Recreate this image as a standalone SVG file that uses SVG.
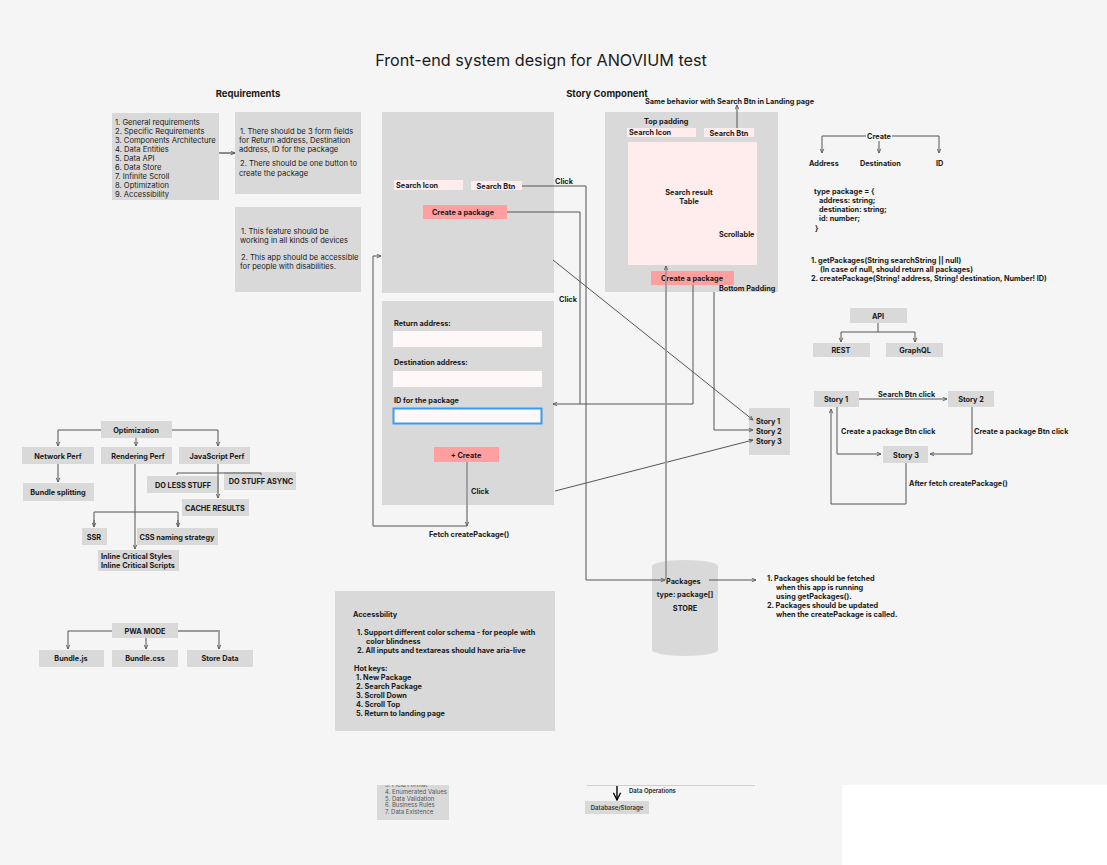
<svg xmlns="http://www.w3.org/2000/svg" width="1107" height="865" viewBox="0 0 1107 865">
<defs>
<marker id="ah" viewBox="0 0 6 6" refX="5.5" refY="3" markerWidth="5" markerHeight="5" orient="auto" markerUnits="userSpaceOnUse">
<path d="M0.5,0.8 L5.5,3 L0.5,5.2" fill="none" stroke="#555" stroke-width="1"/>
</marker>
<marker id="ahb" viewBox="0 0 10 10" refX="9" refY="5" markerWidth="9" markerHeight="9" orient="auto" markerUnits="userSpaceOnUse">
<path d="M1,1 L9,5 L1,9" fill="none" stroke="#000" stroke-width="1.4"/>
</marker>
<clipPath id="clipb"><rect x="377" y="785" width="72" height="35"/></clipPath>
</defs>
<style>
text{font-family:Inter,"Noto Sans","Liberation Sans",sans-serif;fill:#1a1a1a}
.t{font-size:16.2px;font-weight:400}
.h{font-size:9.5px;font-weight:700}
.r{font-size:7.6px;font-weight:400}
.b{font-size:7.3px;font-weight:700}
.c{text-anchor:middle}
.box{fill:#d9d9d9}
.pk{fill:#ffecec}
.sal{fill:#ff9f9f}
.inp{fill:#fff8f8}
.ln{fill:none;stroke:#555;stroke-width:1}
.lg{fill:none;stroke:#9a9a9a;stroke-width:1.8}
.sm{font-size:6px;font-weight:400;fill:#555}
</style>
<rect width="1107" height="865" fill="#f5f5f5"/>
<rect x="842" y="785" width="265" height="80" fill="#ffffff"/>

<text class="t c" x="541" y="66">Front-end system design for ANOVIUM test</text>
<text class="h c" x="248" y="97">Requirements</text>
<text class="h c" x="607" y="97">Story Component</text>

<g id="req-list">
<rect class="box" x="112" y="113" width="107" height="87"/>
<text class="r" x="115" y="125">1. General requirements</text>
<text class="r" x="115" y="134">2. Specific Requirements</text>
<text class="r" x="115" y="143">3. Components Architecture</text>
<text class="r" x="115" y="152">4. Data Entities</text>
<text class="r" x="115" y="161">5. Data API</text>
<text class="r" x="115" y="170">6. Data Store</text>
<text class="r" x="115" y="179">7. Infinite Scroll</text>
<text class="r" x="115" y="188">8. Optimization</text>
<text class="r" x="115" y="197">9. Accessibility</text>
</g>
<g id="req-specific">
<rect class="box" x="235" y="112" width="126" height="82"/>
<text class="r" x="240" y="134">1. There should be 3 form fields</text>
<text class="r" x="239" y="143">for Return address, Destination</text>
<text class="r" x="239" y="152">address, ID for the package</text>
<text class="r" x="240" y="166">2. There should be one button to</text>
<text class="r" x="239" y="176">create the package</text>
</g>
<g id="req-general">
<rect class="box" x="235" y="207" width="126" height="85"/>
<text class="r" x="241" y="234">1. This feature should be</text>
<text class="r" x="240" y="243">working in all kinds of devices</text>
<text class="r" x="241" y="260">2. This app should be accessible</text>
<text class="r" x="240" y="269">for people with disabilities.</text>
</g>

<g id="landing">
<rect class="box" x="382" y="112" width="172" height="181"/>
<rect class="pk" x="394" y="180" width="69" height="10"/>
<text class="b" x="396" y="188">Search Icon</text>
<rect class="pk" x="471" y="181" width="51" height="9"/>
<text class="b c" x="496" y="188.5">Search Btn</text>
<rect class="sal" x="423" y="205" width="84" height="14"/>
<text class="b c" x="463" y="215">Create a package</text>
</g>

<g id="form">
<rect class="box" x="382" y="301" width="172" height="204"/>
<text class="b" x="394" y="326">Return address:</text>
<rect class="inp" x="393" y="331" width="149" height="16"/>
<text class="b" x="394" y="365">Destination address:</text>
<rect class="inp" x="393" y="371" width="149" height="16"/>
<text class="b" x="394" y="403">ID for the package</text>
<rect class="inp" x="393.5" y="408.5" width="148" height="15" stroke="#3b9cf0" stroke-width="2"/>
<rect class="sal" x="434" y="447" width="65" height="15"/>
<text class="b c" x="466" y="457.5">+ Create</text>
</g>

<g id="story-component">
<rect class="box" x="605" y="112" width="173" height="180"/>
<text class="b" x="644" y="124">Top  padding</text>
<rect class="pk" x="627" y="128" width="69" height="9"/>
<text class="b" x="629" y="135">Search Icon</text>
<rect class="pk" x="704" y="128" width="50" height="9"/>
<text class="b c" x="729" y="135.5">Search Btn</text>
<rect class="pk" x="628" y="142" width="129" height="123"/>
<text class="b c" x="689" y="195">Search result</text>
<text class="b c" x="689" y="204">Table</text>
<text class="b" x="719" y="237">Scrollable</text>
<rect class="sal" x="651" y="271" width="83" height="14"/>
<text class="b c" x="692" y="281">Create a package</text>
<text class="b" x="719" y="291">Bottom Padding</text>
<text class="b" x="645" y="104">Same behavior with Search Btn in Landing page</text>
</g>

<g id="create-tree">
<text class="b c" x="879" y="139">Create</text>
<text class="b" x="809" y="166">Address</text>
<text class="b" x="860" y="166">Destination</text>
<text class="b" x="936" y="166">ID</text>
</g>
<g id="type-def">
<text class="b" x="814" y="194">type package = {</text>
<text class="b" x="819" y="203">address: string;</text>
<text class="b" x="819" y="212">destination: string;</text>
<text class="b" x="819" y="221">id: number;</text>
<text class="b" x="815" y="231">}</text>
</g>
<g id="api-list">
<text class="b" x="811" y="263">1. getPackages(String searchString || null)</text>
<text class="b" x="820" y="272">(In case of null, should return all packages)</text>
<text class="b" x="811" y="281">2. createPackage(String! address, String! destination, Number! ID)</text>
</g>
<g id="api">
<rect class="box" x="850" y="308" width="57" height="15"/>
<text class="b c" x="878" y="318.5">API</text>
</g>
<g id="rest">
<rect class="box" x="813" y="343" width="57" height="14"/>
<text class="b c" x="841" y="353">REST</text>
</g>
<g id="graphql">
<rect class="box" x="886" y="343" width="57" height="14"/>
<text class="b c" x="915" y="353">GraphQL</text>
</g>

<g id="story1">
<rect class="box" x="814" y="391" width="45" height="16"/>
<text class="b c" x="836" y="402">Story 1</text>
</g>
<g id="story2">
<rect class="box" x="948" y="391" width="46" height="16"/>
<text class="b c" x="971" y="402">Story 2</text>
</g>
<g id="story3">
<rect class="box" x="883" y="446" width="45" height="17"/>
<text class="b c" x="906" y="457.5">Story 3</text>
</g>
<g id="stories-list">
<rect class="box" x="749" y="408" width="41" height="47"/>
<text class="b" x="756" y="424">Story 1</text>
<text class="b" x="756" y="434">Story 2</text>
<text class="b" x="756" y="444">Story 3</text>
</g>

<g id="optimization">
<rect class="box" x="101" y="421" width="71" height="17"/>
<text class="b c" x="136" y="432.5">Optimization</text>
</g>
<g id="network-perf">
<rect class="box" x="22" y="447" width="72" height="17"/>
<text class="b c" x="58" y="458.5">Network Perf</text>
</g>
<g id="rendering-perf">
<rect class="box" x="101" y="447" width="71" height="17"/>
<text class="b c" x="138" y="458.5">Rendering Perf</text>
</g>
<g id="javascript-perf">
<rect class="box" x="179" y="447" width="71" height="17"/>
<text class="b c" x="217" y="458.5">JavaScript Perf</text>
</g>
<g id="bundle-splitting">
<rect class="box" x="23" y="483" width="71" height="18"/>
<text class="b c" x="58" y="494.5">Bundle splitting</text>
</g>
<g id="do-less">
<rect class="box" x="147" y="476" width="72" height="17"/>
<text class="b c" x="183" y="487.5">DO LESS STUFF</text>
</g>
<g id="do-async">
<rect class="box" x="224" y="472" width="72" height="18"/>
<text class="b c" x="261" y="484">DO STUFF ASYNC</text>
</g>
<g id="cache">
<rect class="box" x="182" y="499" width="67" height="17"/>
<text class="b c" x="215" y="510.5">CACHE RESULTS</text>
</g>
<g id="ssr">
<rect class="box" x="82" y="528" width="25" height="17"/>
<text class="b c" x="94" y="539.5">SSR</text>
</g>
<g id="css-naming">
<rect class="box" x="137" y="528" width="81" height="17"/>
<text class="b c" x="177" y="539.5">CSS naming strategy</text>
</g>
<g id="inline-critical">
<rect class="box" x="98" y="550" width="81" height="21"/>
<text class="b" x="101" y="559">Inline Critical Styles</text>
<text class="b" x="101" y="568">Inline Critical Scripts</text>
</g>

<g id="pwa">
<rect class="box" x="112" y="623" width="66" height="15"/>
<text class="b c" x="145" y="633.5">PWA MODE</text>
</g>
<g id="bundle-js">
<rect class="box" x="39" y="650" width="65" height="17"/>
<text class="b c" x="71" y="661">Bundle.js</text>
</g>
<g id="bundle-css">
<rect class="box" x="112" y="650" width="66" height="17"/>
<text class="b c" x="145" y="661">Bundle.css</text>
</g>
<g id="store-data">
<rect class="box" x="187" y="650" width="66" height="17"/>
<text class="b c" x="220" y="661">Store Data</text>
</g>

<g id="accessibility">
<rect class="box" x="335" y="591" width="220" height="140"/>
<text class="b" x="353" y="617">Accessbility</text>
<text class="b" x="357" y="635">1. Support different color schema - for people with</text>
<text class="b" x="366" y="644">color blindness</text>
<text class="b" x="357" y="653">2. All inputs and textareas should have aria-live</text>
<text class="b" x="354" y="671">Hot keys:</text>
<text class="b" x="356" y="680">1. New Package</text>
<text class="b" x="356" y="689">2. Search Package</text>
<text class="b" x="356" y="698">3. Scroll Down</text>
<text class="b" x="356" y="707">4. Scroll Top</text>
<text class="b" x="356" y="716">5. Return to landing page</text>
</g>

<g id="store">
<path d="M652,566 A33,6 0 0 1 718,566 L718,650 A33,6 0 0 1 652,650 Z" fill="#d9d9d9"/>
<text class="b" x="666" y="583.5">Packages</text>
<text class="b c" x="685" y="597">type: package[]</text>
<text class="b c" x="685" y="610.5">STORE</text>
</g>
<g id="store-notes">
<text class="b" x="767" y="580.5">1. Packages should be fetched</text>
<text class="b" x="776" y="589.5">when this app is running</text>
<text class="b" x="776" y="598.5">using getPackages().</text>
<text class="b" x="767" y="607.5">2. Packages should be updated</text>
<text class="b" x="776" y="616.5">when the createPackage is called.</text>
</g>

<g id="validation-fragment">
<rect class="box" x="377" y="785" width="72" height="35"/>
<g clip-path="url(#clipb)">
<text class="sm" x="385" y="787">3. Field Format</text>
</g>
<text class="sm" x="385" y="794">4. Enumerated Values</text>
<text class="sm" x="385" y="800.5">5. Data Validation</text>
<text class="sm" x="385" y="807">6. Business Rules</text>
<text class="sm" x="385" y="813.5">7. Data Existence</text>
</g>
<g id="database">
<rect class="box" x="585" y="801" width="64" height="13"/>
<text class="c" x="617" y="810" style="font-size:6px;font-weight:600;fill:#333">Database/Storage</text>
<text x="629" y="793" style="font-size:6px;font-weight:600;fill:#222">Data Operations</text>
</g>

<g id="connectors">
<line class="ln" x1="219" y1="153" x2="235" y2="153" style="stroke:#222" marker-end="url(#ah)"/>
<polyline class="ln" points="522,186 586,186 586,580 665,580" marker-end="url(#ah)"/>
<text class="b" x="555" y="184">Click</text>
<polyline class="ln" points="507,212 580,212 580,404"/>
<polyline class="ln" points="693,285 693,404 553,404" marker-end="url(#ah)"/>
<text class="b" x="559" y="302">Click</text>
<line class="ln" x1="553" y1="260" x2="753" y2="420" marker-end="url(#ah)"/>
<polyline class="ln" points="714,292 714,430 753,430" marker-end="url(#ah)"/>
<line class="ln" x1="555" y1="491" x2="753" y2="440" marker-end="url(#ah)"/>
<line class="lg" x1="666" y1="580" x2="666" y2="266" marker-end="url(#ah)"/>
<line class="ln" x1="709" y1="580" x2="756" y2="580" marker-end="url(#ah)"/>
<line class="lg" x1="467" y1="462" x2="467" y2="526" marker-end="url(#ah)"/>
<polyline class="ln" points="467,526 373,526 373,256 381,256" marker-end="url(#ah)"/>
<text class="b" x="471" y="494">Click</text>
<text class="b" x="429" y="537">Fetch createPackage()</text>
<line class="ln" x1="737" y1="128" x2="737" y2="105" marker-end="url(#ah)"/>
<polyline class="ln" points="866,136 822,136 822,153" marker-end="url(#ah)"/>
<polyline class="ln" points="892,136 939,136 939,153" marker-end="url(#ah)"/>
<line class="lg" x1="879" y1="141" x2="879" y2="153" marker-end="url(#ah)"/>
<polyline class="ln" points="878,323 878,332 841,332 841,342" marker-end="url(#ah)"/>
<polyline class="ln" points="878,332 915,332 915,342" marker-end="url(#ah)"/>
<line class="ln" x1="859" y1="399" x2="947" y2="399" marker-end="url(#ah)"/>
<text class="b" x="878" y="397">Search Btn click</text>
<polyline class="ln" points="837,407 837,454 881,454" marker-end="url(#ah)"/>
<text class="b" x="841" y="434">Create a package Btn click</text>
<polyline class="ln" points="972,407 972,454 930,454" marker-end="url(#ah)"/>
<text class="b" x="974" y="434">Create a package Btn click</text>
<polyline class="ln" points="906,463 906,504 831,504 831,409" marker-end="url(#ah)"/>
<text class="b" x="909" y="486">After fetch createPackage()</text>
<polyline class="ln" points="101,430 58,430 58,446" marker-end="url(#ah)"/>
<line class="ln" x1="136" y1="438" x2="136" y2="446" marker-end="url(#ah)"/>
<polyline class="ln" points="172,430 218,430 218,446" marker-end="url(#ah)"/>
<line class="lg" x1="58" y1="464" x2="58" y2="482" marker-end="url(#ah)"/>
<line class="ln" x1="218" y1="464" x2="218" y2="498" marker-end="url(#ah)"/>
<polyline class="ln" points="177,475 177,473 261,473 261,475"/>
<line class="ln" x1="135" y1="464" x2="135" y2="549" marker-end="url(#ah)"/>
<polyline class="ln" points="94,526 94,512 178,512 178,526"/>
<line class="ln" x1="94" y1="520" x2="94" y2="527" marker-end="url(#ah)"/>
<line class="ln" x1="178" y1="520" x2="178" y2="527" marker-end="url(#ah)"/>
<polyline class="ln" points="112,631 68,631 68,649" marker-end="url(#ah)"/>
<line class="ln" x1="146" y1="638" x2="146" y2="649" marker-end="url(#ah)"/>
<polyline class="lg" points="178,631 219,631 219,649" marker-end="url(#ah)"/>
<line x1="617" y1="785" x2="617" y2="800" stroke="#000" stroke-width="1.4" marker-end="url(#ahb)"/>
<line x1="587" y1="785.5" x2="755" y2="785.5" stroke="#cfcfcf" stroke-width="1"/>
</g>
</svg>
